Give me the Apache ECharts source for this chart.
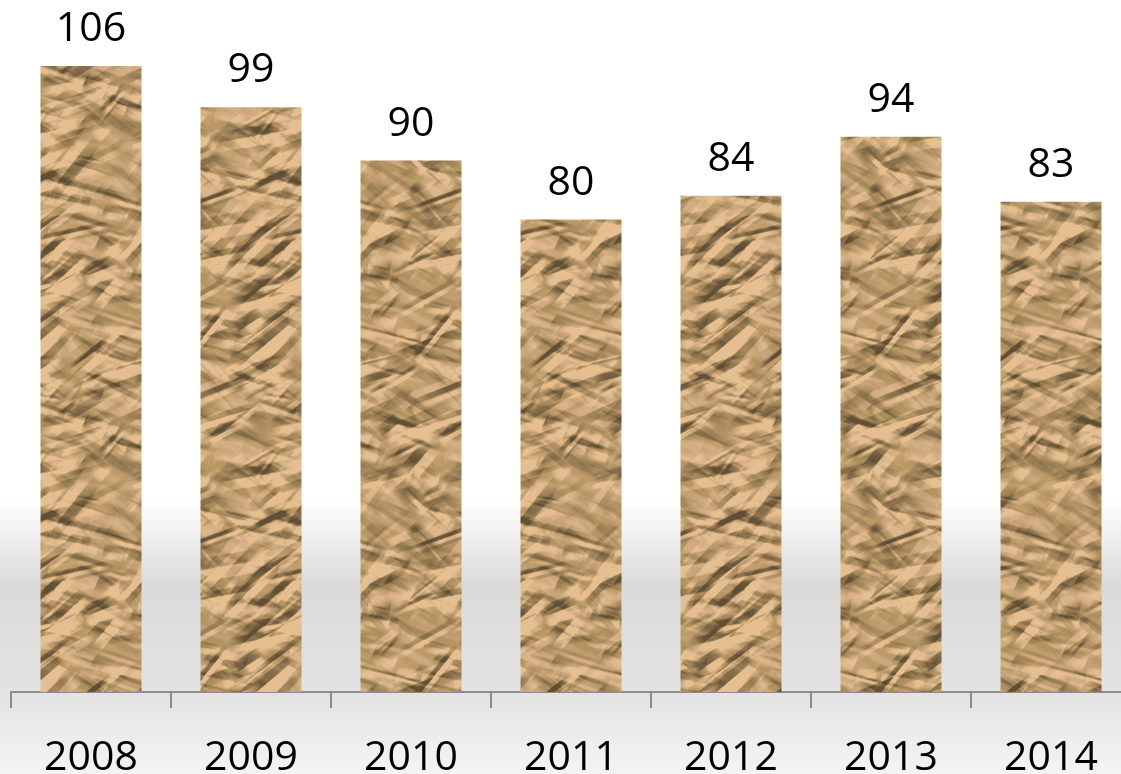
<!DOCTYPE html>
<html>
<head>
<meta charset="utf-8">
<script src="https://cdn.jsdelivr.net/npm/echarts@6/dist/echarts.min.js"></script>
<style>
  html, body { margin: 0; padding: 0; }
  #chart {
    width: 1121px; height: 774px;
    background: linear-gradient(to bottom, #ffffff 0px, #ffffff 500px, #dadada 585px, #e3e3e3 692px, #f4f4f4 774px);
  }
</style>
</head>
<body>
<div id="chart"></div>
<script>
// Chart data
const years = ['2008', '2009', '2010', '2011', '2012', '2013', '2014'];
const values = [106, 99, 90, 80, 84, 94, 83];

// Crumpled brown-paper fill: a tileable height field of folds, lit from the upper left
function paperTexture(w, h, seed) {
  let s = seed;
  const rnd = () => {
    s = (s + 0x6D2B79F5) | 0;
    let t = Math.imul(s ^ (s >>> 15), 1 | s);
    t = (t + Math.imul(t ^ (t >>> 7), 61 | t)) ^ t;
    return ((t ^ (t >>> 14)) >>> 0) / 4294967296;
  };
  const H = new Float32Array(w * h);
  const folds = 560;
  for (let f = 0; f < folds; f++) {
    const cx = Math.floor(rnd() * w), cy = Math.floor(rnd() * h);
    const th = (rnd() < 0.75 ? 1 : -1) * (0.15 + rnd() * 0.8);
    const L = 10 + rnd() * 36, wd = 2 + rnd() * 10;
    const A = (rnd() * 2 - 1.15) * wd * 0.3;
    const ct = Math.cos(th), st = Math.sin(th);
    const R = Math.ceil(L + wd);
    for (let yy = -R; yy <= R; yy++) {
      for (let xx = -R; xx <= R; xx++) {
        const u = xx * ct + yy * st, v = -xx * st + yy * ct;
        if (Math.abs(u) > L || Math.abs(v) > wd) continue;
        const val = A * (1 - Math.abs(v) / wd) * (1 - (u / L) * (u / L));
        const px = ((cx + xx) % w + w) % w, py = ((cy + yy) % h + h) % h;
        H[py * w + px] += val;
      }
    }
  }
  const c = document.createElement('canvas');
  c.width = w; c.height = h;
  const g = c.getContext('2d');
  const img = g.createImageData(w, h);
  let lx = -0.55, ly = -0.65, lz = 0.75;
  const ln = Math.hypot(lx, ly, lz); lx /= ln; ly /= ln; lz /= ln;
  const base = [193, 158, 116];
  for (let y = 0; y < h; y++) {
    for (let x = 0; x < w; x++) {
      const xl = (x - 1 + w) % w, xr = (x + 1) % w, yu = (y - 1 + h) % h, yd = (y + 1) % h;
      const gx = (H[y * w + xr] - H[y * w + xl]) / 2;
      const gy = (H[yd * w + x] - H[yu * w + x]) / 2;
      const nl = Math.hypot(gx, gy, 1);
      const shade = (-gx * lx - gy * ly + lz) / nl;
      let b = 1 + (shade - lz) * 1.3;
      b = Math.max(0.5, Math.min(1.16, b));
      const i = (y * w + x) * 4;
      // highlights drift toward pale cream, shadows toward warm brown
      const t = b > 1 ? (b - 1) / 0.16 : 0;
      img.data[i] = Math.min(255, base[0] * b + t * 6);
      img.data[i + 1] = Math.min(255, base[1] * b + t * 8);
      img.data[i + 2] = Math.min(255, base[2] * b * (b < 1 ? 0.92 : 1) + t * 10);
      img.data[i + 3] = 255;
    }
  }
  g.putImageData(img, 0, 0);
  const out = document.createElement('canvas');
  out.width = w; out.height = h;
  const o = out.getContext('2d');
  o.filter = 'blur(0.6px)';
  for (const ox of [-w, 0, w]) for (const oy of [-h, 0, h]) o.drawImage(c, ox, oy);
  return out;
}

const paper = paperTexture(230, 340, 20140);
const labelFont = "'Open Sans', 'Liberation Sans', sans-serif";

const chart = echarts.init(document.getElementById('chart'), null, { renderer: 'canvas' });
chart.setOption({
  animation: false,
  backgroundColor: 'transparent',
  grid: { left: 11, top: 42.3, width: 1120, height: 649.7, containLabel: false, outerBoundsMode: 'none' },
  xAxis: {
    type: 'category',
    data: years,
    axisLine: { show: true, lineStyle: { color: '#8c8c8c', width: 2 } },
    axisTick: { show: true, alignWithLabel: false, length: 16, lineStyle: { color: '#8c8c8c', width: 2 } },
    axisLabel: { fontSize: 41, lineHeight: 41, margin: 46, color: '#000', fontFamily: labelFont }
  },
  yAxis: {
    type: 'value', min: 0, max: 110, show: false,
    splitLine: { show: false }
  },
  series: [{
    type: 'bar',
    data: values,
    barWidth: 101,
    itemStyle: { color: { image: paper, repeat: 'repeat' } },
    label: {
      show: true, position: 'top', distance: 16,
      fontSize: 41, lineHeight: 41, color: '#000', fontFamily: labelFont
    }
  }]
});
</script>
</body>
</html>
